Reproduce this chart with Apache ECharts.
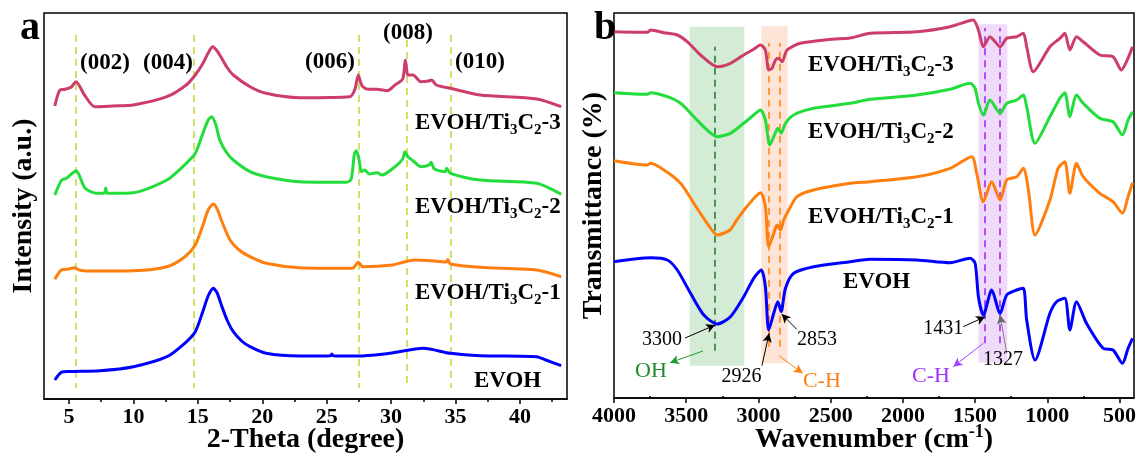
<!DOCTYPE html>
<html><head><meta charset="utf-8">
<script src="https://cdn.jsdelivr.net/npm/echarts@6/dist/echarts.min.js"></script>
<style>html,body{margin:0;padding:0;background:#fff}#c{width:1141px;height:456px}</style>
</head><body><div id="c"></div>
<script>
// ---------------- DATA ----------------
// XRD (panel a): [2-theta (deg), intensity (a.u., stacked offset)]
const xrdEVOH = [[3.9,19],[4.4,26.7],[5,27.5],[7.4,28.3],[10,32.3],[12.6,42.3],[14,56],[14.8,67.3],[15.4,88],[15.8,103],[16.2,110.7],[16.5,106],[16.85,93],[17.3,78],[17.75,67.3],[18.4,58],[19.05,52.3],[20.3,45.7],[22.9,43],[25.3,43.3],[25.4,45],[25.5,43.3],[27.6,43],[29.9,45.7],[32.5,50.7],[34.6,45.7],[36.9,43.3],[41.3,42.3],[42,39],[43.2,33.3]];
const xrdTi1 = [[3.9,119.7],[4.4,129],[5.0,130],[5.4,131.3],[5.8,129],[6.4,128],[10,128.3],[12.6,132.3],[14,142.3],[14.8,154],[15.4,174],[15.8,189],[16.2,195],[16.5,190],[16.85,178],[17.5,159],[18.2,149],[19.05,142.3],[20.3,135.7],[22.9,131.3],[27.0,130.7],[27.45,136.7],[27.8,132.3],[30.1,134],[31.0,137],[31.8,139],[33.4,138],[34.3,137],[34.4,139.5],[34.6,135],[36.9,131.7],[41.3,129],[43.2,122.3]];
const xrdTi2 = [[3.9,204],[4.43,219],[4.8,220.7],[5.55,228.3],[6.25,210.7],[7.15,205.7],[7.75,206],[7.85,211],[7.95,206],[8.4,205.7],[10,206.3],[12.6,219],[14.1,235.7],[14.8,245.7],[15.4,266],[15.8,279],[16.07,282.3],[16.4,274],[16.7,259],[17.2,247],[17.75,239],[19.05,227.3],[20.3,222.3],[22.9,217.3],[26.55,216.7],[26.9,220],[27.15,245],[27.3,248.3],[27.5,240],[27.7,227.3],[27.95,229],[28.3,225],[28.9,226.3],[29.3,224],[30.3,232.3],[30.9,240],[31.07,247.3],[31.3,242.3],[31.7,238.3],[32.3,232.3],[32.95,234],[33.1,236.7],[33.35,230],[34.2,227.3],[34.3,230.7],[34.6,225.7],[36.9,219],[41.3,215.7],[43.2,204.7]];
const xrdTi3 = [[3.9,293],[4.3,309],[4.7,309.7],[5.15,311.7],[5.55,317.3],[6.2,304],[7.0,292.3],[8.4,293],[10,294],[12.6,302.3],[14.1,314],[14.8,324],[15.4,335.7],[15.8,346],[16.15,352.3],[16.5,348],[16.85,340.7],[17.3,331],[17.75,324],[19.05,312.3],[20.3,305.7],[22.9,301.3],[26.8,302.3],[27.2,310],[27.45,324],[27.65,316],[27.8,312.3],[28.2,309.7],[28.9,309.7],[29.7,308.3],[30.3,314],[30.9,320],[31.1,339],[31.2,330],[31.3,324],[31.7,324],[32.3,317.3],[32.9,318],[33.15,319],[33.5,314],[34.6,310.7],[36.9,304],[41.3,300],[43.2,292.3]];
const xrdPlanes = ['(002)','(004)','(006)','(008)','(010)'];
const xrdPlanePositions = [5.54, 14.7, 27.5, 31.2, 34.6];
const xrdTicks = [5,10,15,20,25,30,35,40];
const xrdMinorTicks = [7.5,12.5,17.5,22.5,27.5,32.5,37.5,42.5];

// FTIR (panel b): [wavenumber (cm-1), transmittance (%, stacked offset)]
const irEVOH = [[4000,134.3],[3746,138.3],[3631,136],[3562,126],[3470,102.7],[3378,81],[3285,72],[3194,79.3],[3102,99.3],[3033,117.7],[2980,126],[2952,109.3],[2929,66],[2894,82.7],[2866,94.3],[2843,84.3],[2813,107.7],[2756,122.7],[2618,129.3],[2365,134.3],[2226,136.7],[1903,136],[1673,133.3],[1535,137.7],[1500,132.7],[1477,99.3],[1443,81],[1385,106],[1327,82.7],[1281,101],[1212,106],[1166,107.7],[1143,76],[1085,36],[982,82.7],[936,94.3],[879,97.7],[844,66],[798,94.3],[729,72.7],[614,47.7],[545,46],[480,32.7],[441,47.7],[410,57.7]];
const irTi1 = [[4000,235.3],[3769,231],[3746,232.7],[3654,226],[3539,212.7],[3447,192.7],[3355,172.7],[3285,161],[3197,166],[3150,176],[3081,189.3],[2986,203.3],[2952,189.3],[2929,149.3],[2894,162.7],[2871,171],[2848,166],[2825,176],[2790,186],[2733,199.3],[2618,206],[2365,212.7],[2226,214.3],[1903,219.3],[1673,227.7],[1524,239.3],[1489,222.7],[1443,194.3],[1385,214.3],[1327,196],[1281,216],[1212,219.3],[1166,227.7],[1131,206],[1085,161],[982,196],[925,227.7],[879,234.3],[844,202.7],[798,232.7],[752,219.3],[637,202.7],[545,194.3],[480,182.7],[441,199.3],[410,213.3]];
const irTi2 = [[4000,303.3],[3769,301.7],[3746,303.3],[3631,299.3],[3539,292.7],[3447,279.3],[3355,266],[3285,259.3],[3194,262.7],[3102,272.7],[3033,281],[2986,286],[2952,276],[2922,251],[2894,259.3],[2866,267.7],[2843,262.7],[2813,272.7],[2756,281],[2618,287.7],[2365,292.7],[2226,296.7],[1903,301],[1673,306.7],[1535,312.7],[1500,307.7],[1477,292.7],[1443,281],[1397,296],[1327,282.7],[1281,292.7],[1212,296],[1166,301],[1143,289.3],[1085,252.7],[982,279.3],[913,297.7],[879,303.3],[844,279.3],[798,301],[752,292.7],[637,277.7],[545,274.3],[480,261],[441,276],[410,284.3]];
const irTi3 = [[4000,364.3],[3769,363.7],[3746,366],[3654,363.3],[3562,361],[3493,354.3],[3401,341],[3285,329.3],[3194,332.7],[3102,341],[3033,346.7],[2986,351],[2952,346],[2929,326],[2906,327.7],[2882,336],[2860,337.7],[2836,334.3],[2802,346],[2710,352.7],[2502,356.7],[2365,358],[2226,362.7],[1903,364.3],[1673,369.3],[1547,375],[1512,376],[1477,366],[1443,349.3],[1397,359.3],[1362,354.3],[1327,349.3],[1281,357.7],[1212,359.3],[1166,362.7],[1143,349.3],[1097,324.3],[982,349.3],[913,357.7],[879,362.7],[844,346],[798,359.3],[752,354.3],[637,341],[545,339.3],[487,326],[452,334.3],[410,349.3]];
const irPeaks = [3300, 2926, 2853, 1431, 1327];
const irBands = [[3476,3098],[2980,2798],[1477,1277]];
const irTicks = [500,1000,1500,2000,2500,3000,3500,4000];
const irMinorTicks = [750,1250,1750,2250,2750,3250,3750];

const seriesNames = ['EVOH','EVOH/Ti3C2-1','EVOH/Ti3C2-2','EVOH/Ti3C2-3'];

// ---------------- STYLE ----------------
const FONT = '"Liberation Serif","Times New Roman",serif';
const COLORS = {EVOH:'#0000ff', t1:'#ff7f0e', t2:'#22dd3c', t3:'#cc3d6a'};
const chart = echarts.init(document.getElementById('c'), null, {renderer:'canvas'});

function xAxisMajor(grid, min, max, ticks, name, gap, inverse, nameRich){
  return {type:'value', gridIndex:grid, min, max, inverse:!!inverse,
    name, nameLocation:'middle', nameGap:gap, nameMoveOverlap:false,
    nameTextStyle:{fontFamily:FONT, fontWeight:'bold', fontSize:28, color:'#000', verticalAlign:'middle', rich:nameRich||{}},
    axisLine:{show:true, onZero:false, lineStyle:{color:'#000', width:1.5}},
    axisTick:{show:true, customValues:ticks, length:5, lineStyle:{color:'#000', width:1.5}},
    axisLabel:{show:true, customValues:ticks, formatter:v=>String(v), fontFamily:FONT, fontWeight:'bold', fontSize:22, color:'#000', margin:7},
    splitLine:{show:false}};
}
function xAxisMinor(grid, min, max, ticks, inverse){
  return {type:'value', gridIndex:grid, min, max, inverse:!!inverse, position:'bottom',
    axisLine:{show:false}, axisLabel:{show:false}, splitLine:{show:false},
    axisTick:{show:true, customValues:ticks, length:3, lineStyle:{color:'#000', width:1.5}}};
}
function yAxis(grid, min, max, name){
  return {type:'value', gridIndex:grid, min, max, name, nameLocation:'middle', nameGap:20, nameMoveOverlap:false,
    nameTextStyle:{fontFamily:FONT, fontWeight:'bold', fontSize:28, color:'#000', verticalAlign:'middle'},
    axisLine:{show:false}, axisTick:{show:false}, axisLabel:{show:false}, splitLine:{show:false}};
}
function lineSeries(name, data, color, xi, yi){
  return {type:'line', name, data, xAxisIndex:xi, yAxisIndex:yi, showSymbol:false, symbol:'none',
    smooth:0.25, z:5, lineStyle:{color, width:3}, itemStyle:{color}, silent:true, animation:false};
}

const dashA = '#c5d62e';
const option = {
  animation:false,
  backgroundColor:'#fff',
  title:[
    {text:'a', left:15, top:4, textStyle:{fontFamily:FONT, fontWeight:'bold', fontSize:40, color:'#000'}},
    {text:'b', left:589, top:4, textStyle:{fontFamily:FONT, fontWeight:'bold', fontSize:40, color:'#000'}}
  ],
  grid:[
    {left:44, top:13, width:523, height:386, show:true, borderColor:'#000', borderWidth:1.5, containLabel:false, outerBoundsMode:'none'},
    {left:614, top:13, width:520, height:385, show:true, borderColor:'#000', borderWidth:1.5, containLabel:false, outerBoundsMode:'none'}
  ],
  xAxis:[
    xAxisMajor(0, 3.06, 43.65, xrdTicks, '2-Theta (degree)', 41),
    xAxisMinor(0, 3.06, 43.65, xrdMinorTicks),
    xAxisMajor(1, 400, 4000, irTicks, 'Wavenumber (cm{sup|-1})', 42, true,
      {sup:{fontFamily:FONT, fontWeight:'bold', fontSize:18, color:'#000', verticalAlign:'top', lineHeight:34}}),
    xAxisMinor(1, 400, 4000, irMinorTicks, true)
  ],
  yAxis:[ yAxis(0, 0, 386, 'Intensity (a.u.)'), yAxis(1, -2, 383, 'Transmittance (%)') ],
  series:[
    // panel a decorations
    {type:'line', data:[], xAxisIndex:0, yAxisIndex:0, z:6, silent:true,
      markLine:{silent:true, symbol:['none','none'], label:{show:false},
        lineStyle:{color:dashA, type:[7,5], width:1.5},
        data: xrdPlanePositions.map((p,i)=>[{coord:[p, i===3?359:364]},{coord:[p, 11]}])}},
    lineSeries(seriesNames[0], xrdEVOH, COLORS.EVOH, 0, 0),
    lineSeries(seriesNames[1], xrdTi1, COLORS.t1, 0, 0),
    lineSeries(seriesNames[2], xrdTi2, COLORS.t2, 0, 0),
    lineSeries(seriesNames[3], xrdTi3, COLORS.t3, 0, 0),
    // panel b bands
    {type:'line', data:[], xAxisIndex:2, yAxisIndex:1, z:1, silent:true,
      markArea:{silent:true, label:{show:false}, data:[
        [{coord:[irBands[0][0], 30.3], itemStyle:{color:'#d4ecd5'}},{coord:[irBands[0][1], 369.3]}],
        [{coord:[irBands[1][0], 32.7], itemStyle:{color:'#fde4d6'}},{coord:[irBands[1][1], 370]}],
        [{coord:[irBands[2][0], 33.3], itemStyle:{color:'#efdafa'}},{coord:[irBands[2][1], 371.7]}]
      ]}},
    // panel b dashed peak lines
    {type:'line', data:[], xAxisIndex:2, yAxisIndex:1, z:3, silent:true,
      markLine:{silent:true, symbol:['none','none'], label:{show:false}, lineStyle:{type:[7,5], width:1.5},
        data:[
          [{coord:[irPeaks[0], 45.3], lineStyle:{color:'#1f7a2a'}},{coord:[irPeaks[0], 349.3]}],
          [{coord:[irPeaks[1], 49.3], lineStyle:{color:'#ff7f0e'}},{coord:[irPeaks[1], 353]}],
          [{coord:[irPeaks[2], 49.3], lineStyle:{color:'#ff7f0e'}},{coord:[irPeaks[2], 353]}],
          [{coord:[irPeaks[3], 52.7], lineStyle:{color:'#9b22ee'}},{coord:[irPeaks[3], 368]}],
          [{coord:[irPeaks[4], 52.7], lineStyle:{color:'#9b22ee'}},{coord:[irPeaks[4], 368]}]
        ]}},
    lineSeries(seriesNames[0], irEVOH, COLORS.EVOH, 2, 1),
    lineSeries(seriesNames[1], irTi1, COLORS.t1, 2, 1),
    lineSeries(seriesNames[2], irTi2, COLORS.t2, 2, 1),
    lineSeries(seriesNames[3], irTi3, COLORS.t3, 2, 1),
    // arrows
    {type:'line', data:[], xAxisIndex:2, yAxisIndex:1, z:8, silent:true,
      markLine:{silent:true, symbol:['none','arrow'], symbolSize:[7,9], label:{show:false},
        lineStyle:{type:'solid', width:1, color:'#000'},
        data:[
          [{coord:[3508,58]},{coord:[irPeaks[0],71]}],
          [{coord:[2976,30.3]},{coord:[irPeaks[1],62.7]}],
          [{coord:[2735,66.7]},{coord:[2839,82]}],
          [{coord:[1582,69.3]},{coord:[irPeaks[3],79.3]}],
          [{coord:[1281,42.7], lineStyle:{color:'#666', width:0.8}},{coord:[irPeaks[4],81]}],
          [{coord:[3384,45], lineStyle:{color:'#1f9a2a'}},{coord:[3612,33.3]}],
          [{coord:[2856,40], lineStyle:{color:'#ff7f0e'}},{coord:[2694,22.7]}],
          [{coord:[1443,52.7], lineStyle:{color:'#a040ff'}},{coord:[1651,29.3]}]
        ]}}
  ]
};
chart.setOption(option);

// ---------------- TEXT ANNOTATIONS (anchored in data coordinates) ----------------
const subRich = {
  n:{fontFamily:FONT, fontWeight:'bold', fontSize:23, color:'#000', lineHeight:30},
  s:{fontFamily:FONT, fontWeight:'bold', fontSize:15, color:'#000', lineHeight:15, verticalAlign:'bottom'}
};
function richName(n){
  const m = n.match(/^(EVOH\/Ti)3C2(-\d)$/);
  return m ? '{n|EVOH/Ti}{s|3}{n|C}{s|2}{n|'+m[2]+'}' : '{n|'+n+'}';
}
function px(panel, x, y){
  return chart.convertToPixel(panel===0 ? {xAxisIndex:0, yAxisIndex:0} : {xAxisIndex:2, yAxisIndex:1}, [x,y]);
}
const texts = [];
function addText(panel, x, y, text, opt){
  const p = px(panel, x, y);
  texts.push({type:'text', x:p[0], y:p[1], z:20, silent:true,
    style:Object.assign({text, align:'center', verticalAlign:'middle'}, opt)});
}
const planeFont = {fontFamily:FONT, fontWeight:'bold', fontSize:23, fill:'#000'};
const planeAt = [[7.79,336],[12.68,336],[25.25,337],[31.31,366],[36.9,337]];
xrdPlanes.forEach((t,i)=>addText(0, planeAt[i][0], planeAt[i][1], t, planeFont));
// series labels panel a
[[3,31.85,276],[2,31.85,192],[1,31.85,106],[0,36.43,18]].forEach(([k,x,y])=>
  addText(0, x, y, richName(seriesNames[k]), {align:'left', rich:subRich}));
// series labels panel b
[[3,2657,331],[2,2657,264.3],[1,2657,179.3],[0,2415,114.3]].forEach(([k,x,y])=>
  addText(1, x, y, richName(seriesNames[k]), {align:'left', rich:subRich}));
// peak numbers
const numFont = {fontFamily:FONT, fontSize:20, fill:'#000'};
addText(1, 3529, 56, String(irPeaks[0]), Object.assign({align:'right'}, numFont));
addText(1, 3117, 19.3, String(irPeaks[1]), numFont);
addText(1, 2733, 56, String(irPeaks[2]), Object.assign({align:'left'}, numFont));
addText(1, 1582, 67.7, String(irPeaks[3]), Object.assign({align:'right'}, numFont));
addText(1, 1445, 36, String(irPeaks[4]), Object.assign({align:'left'}, numFont));
addText(1, 3744, 24.3, 'OH', {fontFamily:FONT, fontSize:22, fill:'#1f8a2a'});
addText(1, 2692, 14.3, 'C-H', {fontFamily:FONT, fontSize:22, fill:'#ff7f0e', align:'left'});
addText(1, 1674, 19.3, 'C-H', {fontFamily:FONT, fontSize:22, fill:'#a030ff', align:'right'});
chart.setOption({graphic:{elements:texts}});
</script></body></html>
